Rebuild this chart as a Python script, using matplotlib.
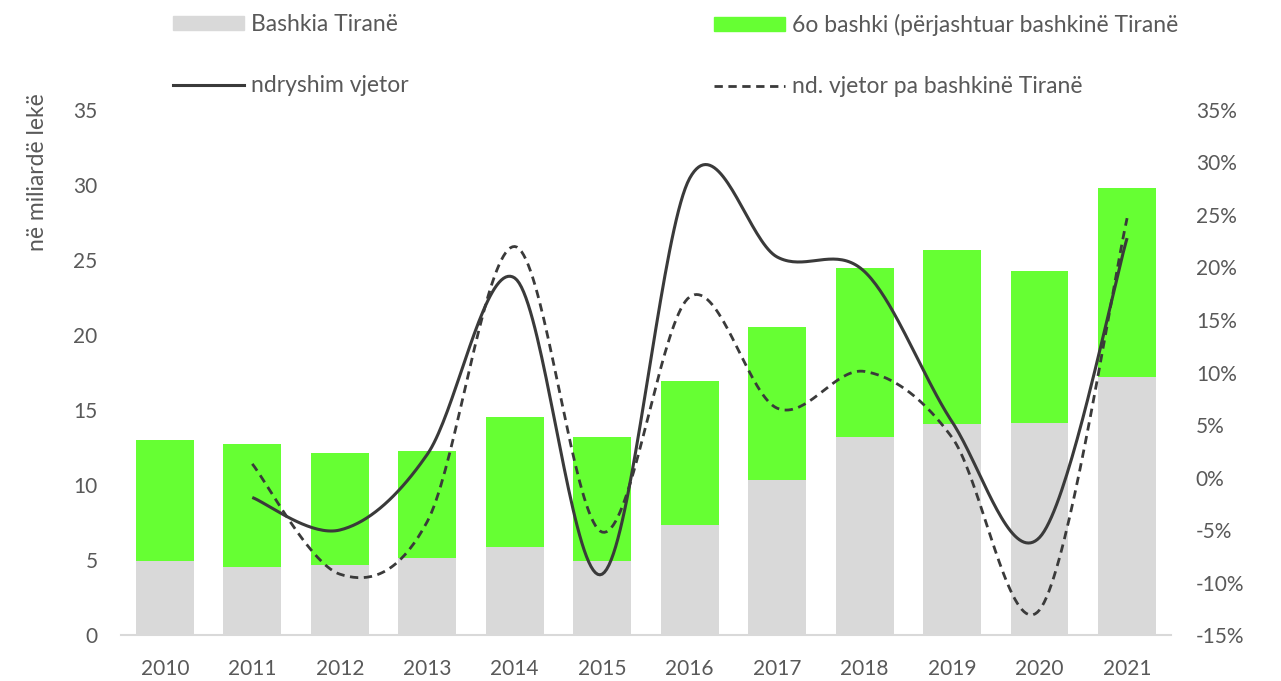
import matplotlib
matplotlib.use('Agg')
import matplotlib.pyplot as plt
import numpy as np
from matplotlib.patches import Patch
from matplotlib.lines import Line2D
from matplotlib.ticker import FuncFormatter

# data
years = ['2010', '2011', '2012', '2013', '2014', '2015', '2016', '2017', '2018', '2019', '2020', '2021']
tirana = [4.93, 4.55, 4.67, 5.11, 5.89, 4.95, 7.33, 10.33, 13.22, 14.05, 14.11, 17.2]
totals = [13.0, 12.73, 12.11, 12.27, 14.55, 13.22, 16.95, 20.53, 24.49, 25.67, 24.27, 29.77]
others = [t - g for t, g in zip(totals, tirana)]
# annual change in %, from 2011
change_all = [-1.9, -5.0, 2.2, 19.0, -9.2, 28.5, 21.0, 19.6, 5.3, -5.7, 22.8]
change_no_tirana = [1.3, -9.2, -4.2, 22.0, -5.2, 17.2, 6.6, 10.1, 3.8, -12.6, 24.7]

text_col = '#595959'
line_col = '#3a3a3a'
plt.rcParams['font.family'] = ['Lato', 'DejaVu Sans']


def smooth(xs, ys, n=40):
    # excel-like smoothed line: bezier through points, tangents from neighbours
    xs = np.asarray(xs, float)
    ys = np.asarray(ys, float)
    px = np.concatenate([[xs[0]], xs, [xs[-1]]])
    py = np.concatenate([[ys[0]], ys, [ys[-1]]])
    outx, outy = [], []
    t = np.linspace(0, 1, n)
    for i in range(1, len(px) - 2):
        p0 = np.array([px[i], py[i]])
        p3 = np.array([px[i + 1], py[i + 1]])
        p1 = p0 + (p3 - np.array([px[i - 1], py[i - 1]])) / 6
        p2 = p3 - (np.array([px[i + 2], py[i + 2]]) - p0) / 6
        bx = (1 - t)**3 * p0[0] + 3 * (1 - t)**2 * t * p1[0] + 3 * (1 - t) * t**2 * p2[0] + t**3 * p3[0]
        by = (1 - t)**3 * p0[1] + 3 * (1 - t)**2 * t * p1[1] + 3 * (1 - t) * t**2 * p2[1] + t**3 * p3[1]
        outx.extend(bx)
        outy.extend(by)
    return outx, outy


fig = plt.figure(figsize=(12.81, 6.81), dpi=100)
ax = fig.add_axes([0.0945, 0.0675, 0.8195, 0.771])
x = np.arange(len(years))
ax.bar(x, tirana, width=0.66, color='#d9d9d9', zorder=2)
ax.bar(x, others, width=0.66, bottom=tirana, color='#66ff33', zorder=2)
ax.set_xlim(-0.5, len(years) - 0.5)
ax.set_ylim(0, 35)
ax.set_yticks(range(0, 36, 5))
ax.set_xticks(x)
ax.set_xticklabels(years)
for s in ['top', 'right', 'left']:
    ax.spines[s].set_visible(False)
ax.spines['bottom'].set_color('#d9d9d9')
ax.spines['bottom'].set_linewidth(1.5)
ax.tick_params(axis='both', length=0, colors=text_col, labelsize=15)
ax.tick_params(axis='x', pad=17)
ax.tick_params(axis='y', pad=17)

ax2 = ax.twinx()
ax2.set_ylim(-15, 35)
ax2.set_yticks(range(-15, 36, 5))
ax2.yaxis.set_major_formatter(FuncFormatter(lambda v, p: f'{int(v)}%'))
for s in ax2.spines.values():
    s.set_visible(False)
ax2.tick_params(axis='y', length=0, colors=text_col, labelsize=15, pad=18)

sx, sy = smooth(x[1:], change_all)
ax2.plot(sx, sy, color=line_col, lw=2.2, solid_capstyle='butt')
dx, dy = smooth(x[1:], change_no_tirana)
ax2.plot(dx, dy, color=line_col, lw=2.0, linestyle=(0, (3, 2)))

fig.text(38 / 1281, 1 - 172 / 681, 'në miliardë lekë', rotation=90, ha='center', va='center',
         color=text_col, fontsize=16.5)

leg_kw = dict(frameon=False, fontsize=16.5, handlelength=3.1, handleheight=0.55, handletextpad=0.3,
              labelspacing=1.75, labelcolor=text_col, borderaxespad=0, borderpad=0)
h1 = [Patch(color='#d9d9d9'), Line2D([], [], color=line_col, lw=2.2)]
fig.legend(h1, ['Bashkia Tiranë', 'ndryshim vjetor'], loc='upper left',
           bbox_to_anchor=(173 / 1281, 1 - 14 / 681), **leg_kw)
h2 = [Patch(color='#66ff33'), Line2D([], [], color=line_col, lw=2.0, linestyle=(0, (3, 2)))]
fig.legend(h2, ['6o bashki (përjashtuar bashkinë Tiranë', 'nd. vjetor pa bashkinë Tiranë'], loc='upper left',
           bbox_to_anchor=(714 / 1281, 1 - 14 / 681), **leg_kw)

fig.savefig('out.png', dpi=100)
